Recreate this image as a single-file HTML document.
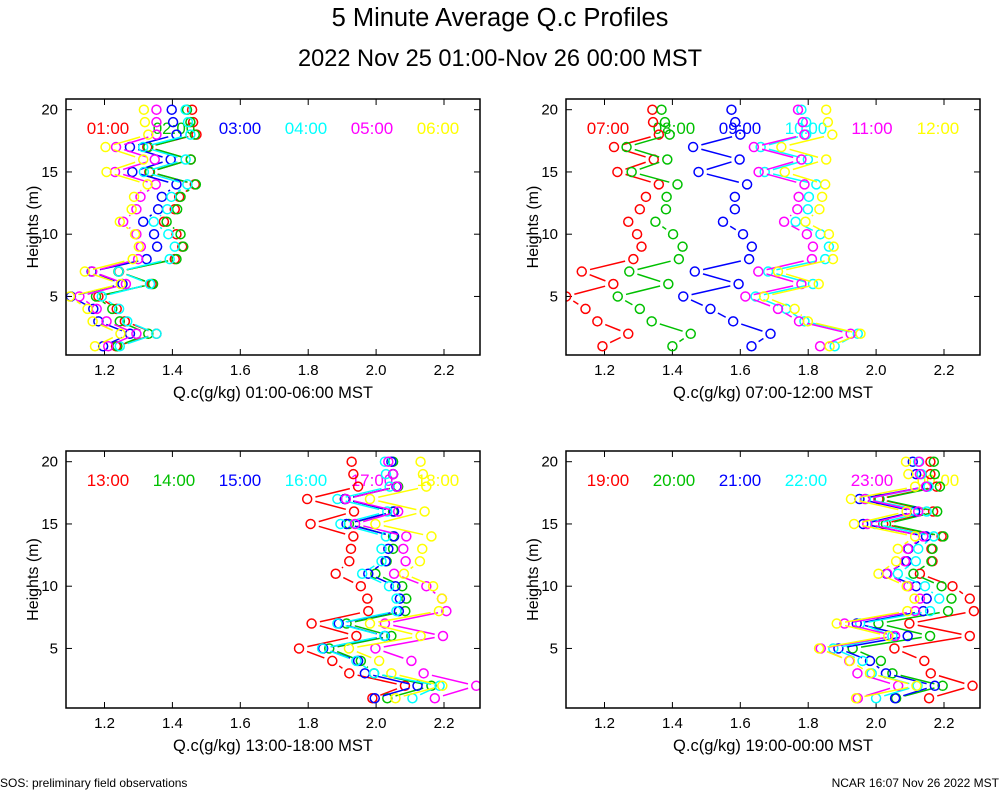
<!DOCTYPE html>
<html><head><meta charset="utf-8">
<style>
html,body{margin:0;padding:0;background:#fff;}
svg{display:block;font-family:"Liberation Sans",Arial,sans-serif;}
</style></head>
<body>
<svg id="chart" width="1000" height="800" viewBox="0 0 1000 800">
<text x="500" y="26" text-anchor="middle" font-size="25.5">5 Minute Average Q.c Profiles</text>
<text x="500" y="66" text-anchor="middle" font-size="23.6">2022 Nov 25 01:00-Nov 26 00:00 MST</text>
<text x="0" y="787" font-size="12">SOS: preliminary field observations</text>
<text x="999" y="787" text-anchor="end" font-size="12">NCAR 16:07 Nov 26 2022 MST</text>
<g id="panels"></g>
</svg>
<script>
const heights = [1,2,3,4,5,6,7,8,9,10,11,12,13,14,15,16,17,18,19,20];
const xTicks = [1.2,1.4,1.6,1.8,2.0,2.2];
const xTickLabels = ["1.2","1.4","1.6","1.8","2.0","2.2"];
const yTicks = [5,10,15,20];
const seriesColors = ["#ff0000","#00c000","#0000ff","#00ffff","#ff00ff","#ffff00"];
const panelTitles = ["Q.c(g/kg) 01:00-06:00 MST","Q.c(g/kg) 07:00-12:00 MST","Q.c(g/kg) 13:00-18:00 MST","Q.c(g/kg) 19:00-00:00 MST"];
const legendLabels = [
 ["01:00","02:00","03:00","04:00","05:00","06:00"],
 ["07:00","08:00","09:00","10:00","11:00","12:00"],
 ["13:00","14:00","15:00","16:00","17:00","18:00"],
 ["19:00","20:00","21:00","22:00","23:00","00:00"]];
// panel 1
const p1Red=[1.234,1.353,1.260,1.236,1.182,1.339,1.243,1.407,1.429,1.412,1.375,1.407,1.420,1.466,1.332,1.454,1.326,1.471,1.461,1.458];
const p1Green=[1.238,1.329,1.245,1.223,1.175,1.343,1.241,1.412,1.432,1.424,1.383,1.414,1.424,1.469,1.334,1.454,1.329,1.466,1.453,1.443];
const p1Blue=[1.196,1.275,1.182,1.167,1.101,1.253,1.162,1.324,1.355,1.346,1.314,1.358,1.369,1.412,1.282,1.395,1.275,1.412,1.402,1.398];
const p1Cyan=[1.245,1.353,1.267,1.243,1.192,1.334,1.242,1.392,1.407,1.388,1.345,1.385,1.397,1.444,1.316,1.439,1.314,1.453,1.446,1.439];
const p1Magenta=[1.211,1.294,1.206,1.177,1.126,1.263,1.164,1.299,1.307,1.294,1.255,1.294,1.306,1.351,1.231,1.348,1.234,1.353,1.353,1.353];
const p1Yellow=[1.172,1.247,1.165,1.150,1.098,1.248,1.142,1.283,1.301,1.290,1.245,1.280,1.287,1.327,1.206,1.314,1.203,1.329,1.319,1.316];
// panel 2
const p2Red=[1.194,1.270,1.179,1.144,1.087,1.226,1.133,1.285,1.309,1.296,1.270,1.304,1.322,1.360,1.238,1.345,1.228,1.360,1.343,1.341];
const p2Green=[1.400,1.454,1.339,1.304,1.239,1.388,1.273,1.419,1.430,1.402,1.350,1.381,1.383,1.415,1.280,1.385,1.265,1.392,1.378,1.368];
const p2Blue=[1.633,1.689,1.579,1.512,1.432,1.595,1.466,1.626,1.634,1.608,1.549,1.584,1.584,1.620,1.477,1.598,1.461,1.600,1.585,1.574];
const p2Cyan=[1.878,1.946,1.789,1.735,1.645,1.814,1.682,1.850,1.861,1.836,1.763,1.799,1.802,1.824,1.672,1.799,1.660,1.794,1.794,1.780];
const p2Magenta=[1.835,1.925,1.773,1.711,1.615,1.780,1.653,1.811,1.814,1.796,1.729,1.768,1.772,1.789,1.654,1.780,1.640,1.789,1.784,1.770];
const p2Yellow=[1.863,1.954,1.799,1.760,1.670,1.831,1.711,1.873,1.875,1.861,1.792,1.833,1.841,1.850,1.731,1.853,1.721,1.871,1.858,1.853];
// panel 3
const p3Red=[1.989,2.085,1.921,1.871,1.773,1.942,1.810,1.977,1.974,1.955,1.881,1.921,1.926,1.933,1.807,1.935,1.797,1.947,1.933,1.928];
const p3Green=[2.033,2.163,1.994,1.955,1.862,2.045,1.913,2.086,2.089,2.077,1.998,2.031,2.050,2.050,1.920,2.050,1.908,2.065,2.050,2.050];
const p3Blue=[1.996,2.122,1.967,1.947,1.844,2.026,1.890,2.067,2.070,2.057,1.977,2.028,2.036,2.053,1.913,2.053,1.908,2.060,2.050,2.045];
const p3Cyan=[2.107,2.187,1.994,1.942,1.841,2.024,1.886,2.060,2.060,2.038,1.959,2.016,2.016,2.029,1.895,2.033,1.886,2.040,2.029,2.026];
const p3Magenta=[2.173,2.295,2.140,2.104,1.998,2.197,2.026,2.207,2.194,2.148,2.053,2.087,2.080,2.089,1.938,2.065,1.911,2.062,2.050,2.036];
const p3Yellow=[2.057,2.195,2.045,2.009,1.920,2.131,1.982,2.185,2.194,2.168,2.082,2.129,2.136,2.163,1.998,2.143,1.982,2.148,2.138,2.131];
// panel 4
const p4Red=[2.156,2.284,2.161,2.142,2.054,2.276,2.098,2.288,2.276,2.225,2.129,2.166,2.163,2.193,2.021,2.168,2.007,2.178,2.160,2.160];
const p4Green=[2.059,2.196,2.048,2.014,1.931,2.159,2.007,2.212,2.222,2.193,2.110,2.163,2.166,2.198,2.029,2.180,2.010,2.188,2.173,2.170];
const p4Blue=[2.056,2.173,2.029,1.982,1.889,2.093,1.943,2.139,2.149,2.118,2.031,2.090,2.095,2.147,1.962,2.115,1.951,2.149,2.118,2.108];
const p4Cyan=[2.000,2.122,1.987,1.960,1.874,2.048,1.953,2.159,2.186,2.144,2.064,2.117,2.124,2.170,1.997,2.149,1.970,2.154,2.134,2.124];
const p4Magenta=[1.946,2.065,1.945,1.921,1.837,2.056,1.907,2.115,2.129,2.095,2.033,2.085,2.093,2.139,1.974,2.124,1.967,2.147,2.129,2.127];
const p4Yellow=[1.941,2.119,1.982,1.923,1.832,2.036,1.884,2.092,2.113,2.090,2.007,2.059,2.064,2.115,1.935,2.090,1.926,2.115,2.095,2.088];

const panelSeries=[
 [p1Red,p1Green,p1Blue,p1Cyan,p1Magenta,p1Yellow],
 [p2Red,p2Green,p2Blue,p2Cyan,p2Magenta,p2Yellow],
 [p3Red,p3Green,p3Blue,p3Cyan,p3Magenta,p3Yellow],
 [p4Red,p4Green,p4Blue,p4Cyan,p4Magenta,p4Yellow]];

const NS="http://www.w3.org/2000/svg";
const root=document.getElementById('panels');
function mk(tag,attrs,parent){const e=document.createElementNS(NS,tag);for(const k in attrs)e.setAttribute(k,attrs[k]);parent.appendChild(e);return e;}

const frames=[{l:66,t:99,r:480,b:355,oy:0},{l:566,t:99,r:980,b:355,oy:0},{l:66,t:451,r:480,b:708,oy:352},{l:566,t:451,r:980,b:708,oy:352}];

frames.forEach((f,pi)=>{
  const g=mk('g',{},root);
  
  
  const xs=v=>f.l+38.5+(v-1.2)*339.5;
  const ys=h=>358.7+f.oy-12.45*h;
  const clipId='clip'+pi;
  const cp=mk('clipPath',{id:clipId},g);
  mk('rect',{x:f.l,y:f.t,width:f.r-f.l,height:f.b-f.t},cp);
  xTicks.forEach((t,i)=>{
    const x=xs(t);
    const tb=mk('line',{x1:x,y1:f.b,x2:x,y2:f.b-6,stroke:'#000','stroke-width':1},g);
    
    
    const tt=mk('line',{x1:x,y1:f.t,x2:x,y2:f.t+6,stroke:'#000','stroke-width':1},g);
    
    
    const lb=mk('text',{x:x,y:f.b+20,'text-anchor':'middle','font-size':15},g);
    lb.textContent=xTickLabels[i];
    
    
  });
  yTicks.forEach(t=>{
    const y=ys(t);
    const a=mk('line',{x1:f.l,y1:y,x2:f.l+6,y2:y,stroke:'#000','stroke-width':1},g);
    
    
    const b=mk('line',{x1:f.r,y1:y,x2:f.r-6,y2:y,stroke:'#000','stroke-width':1},g);
    
    
    const lb=mk('text',{x:f.l-8,y:y+5,'text-anchor':'end','font-size':15},g);
    lb.textContent=String(t);
    
    
  });
  const xt=mk('text',{x:(f.l+f.r)/2,y:f.b+43,'text-anchor':'middle','font-size':16.5},g);
  xt.textContent=panelTitles[pi];
  
  
  const yc=(f.t+f.b)/2;
  const yt=mk('text',{x:f.l-28,y:yc,'text-anchor':'middle','font-size':16,transform:'rotate(-90 '+(f.l-28)+' '+yc+')'},g);
  yt.textContent='Heights (m)';
  
  
  legendLabels[pi].forEach((lab,si)=>{
    const t=mk('text',{x:f.l+42+si*66,y:f.t+35,'text-anchor':'middle','font-size':17,fill:seriesColors[si]},g);
    t.textContent=lab;
    
    
  });
  const dg=mk('g',{'clip-path':'url(#'+clipId+')'},g);
  panelSeries[pi].forEach((vals,si)=>{
    const sg=mk('g',{stroke:seriesColors[si],fill:'none','stroke-width':1.5},dg);
    
    
    const gap=8.5;
    for(let i=0;i<vals.length-1;i++){
      const x1=xs(vals[i]),y1=ys(heights[i]),x2=xs(vals[i+1]),y2=ys(heights[i+1]);
      const dx=x2-x1,dy=y2-y1,L=Math.hypot(dx,dy);
      if(L>2*gap+1){
        const ux=dx/L,uy=dy/L;
        const s=mk('line',{x1:x1+ux*gap,y1:y1+uy*gap,x2:x2-ux*gap,y2:y2-uy*gap},sg);
        
        
      }
    }
    vals.forEach((v,i)=>{
      const c=mk('circle',{cx:xs(v),cy:ys(heights[i]),r:4.5},sg);
      
      
    });
  });
  const fr=mk('rect',{x:f.l,y:f.t,width:f.r-f.l,height:f.b-f.t,fill:'none',stroke:'#000','stroke-width':1.5},g);
  
  
});
</script>
</body></html>
